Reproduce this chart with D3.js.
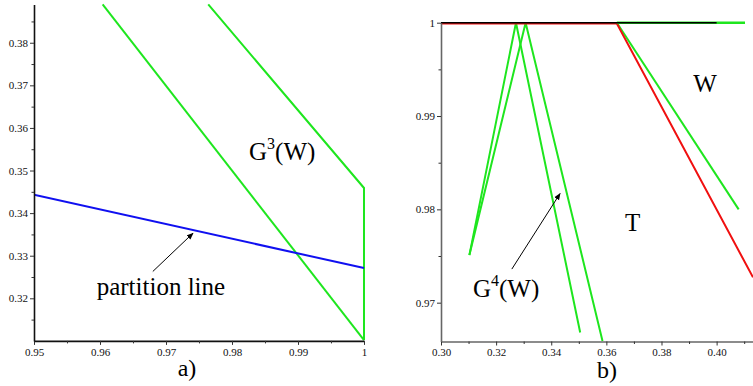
<!DOCTYPE html>
<html>
<head>
<meta charset="utf-8">
<script src="https://cdn.jsdelivr.net/npm/d3@7"></script>
<style>
  body { margin: 0; background: #fff; }
  svg text { font-family: "Liberation Serif", "DejaVu Serif", "Times New Roman", serif; }
</style>
</head>
<body>
<div id="chart"></div>
<script>
// size of the whole picture
var width = 753,
  height = 386;

var serif = "'Liberation Serif', 'DejaVu Serif', serif";

var green = "#1ee61e",
  blue = "#1010f0",
  red = "#f01010";

// ---- panel a) data ----
var aXTicks = [0.95, 0.96, 0.97, 0.98, 0.99, 1.0];
var aXMinor = [0.955, 0.965, 0.975, 0.985, 0.995];
var aYTicks = [0.32, 0.33, 0.34, 0.35, 0.36, 0.37, 0.38];
var aYMinor = [0.315, 0.325, 0.335, 0.345, 0.355, 0.365, 0.375, 0.385];

var partitionLine = [[0.95, 0.3443], [1.0, 0.3271]];
var g3Left = [[0.9604, 0.389], [1.0, 0.3102]];
var g3Right = [[0.9764, 0.389], [1.0, 0.3459], [1.0, 0.3102]];
var arrowA = [[0.968, 0.3263], [0.9741, 0.3353]];

// ---- panel b) data ----
var bXTicks = [0.30, 0.32, 0.34, 0.36, 0.38, 0.40];
var bXMinor = [0.31, 0.33, 0.35, 0.37, 0.39, 0.41];
var bYTicks = [0.97, 0.98, 0.99, 1.0];
var bYMinor = [0.975, 0.985, 0.995];

var topBlack = [[0.30, 1.0], [0.40, 1.0]];
var topGreen = [[0.3638, 1.0], [0.4103, 1.0]];
var redLine = [[0.30, 1.0], [0.3638, 1.0], [0.4132, 0.9728]];
var wEdge = [[0.3638, 1.0], [0.408, 0.98]];
var tent1 = [[0.3103, 0.9751], [0.3272, 1.0], [0.3505, 0.9668]];
var tent2 = [[0.3103, 0.9751], [0.3307, 1.0], [0.3586, 0.9659]];
var arrowB = [[0.3257, 0.9736], [0.3432, 0.9817]];

var svg = d3.select("#chart").append("svg")
  .attr("width", width)
  .attr("height", height)
  .attr("font-family", serif);

var defs = svg.append("defs");
defs.append("marker")
  .attr("id", "arrow")
  .attr("viewBox", "0 0 10 10")
  .attr("refX", 9)
  .attr("refY", 5)
  .attr("markerWidth", 7)
  .attr("markerHeight", 7)
  .attr("markerUnits", "userSpaceOnUse")
  .attr("orient", "auto")
  .append("path")
  .attr("d", "M0,1 L10,5 L0,9 Z")
  .attr("fill", "#000");

function fmt(d) {
  return d === 1 ? "1" : d3.format(".2f")(d);
}

// draws both axes of one panel, major + minor ticks
function drawAxes(x, y, xTicks, xMinor, yTicks, yMinor, axisColor) {
  var g = svg.append("g");
  var y0 = y.range()[0], x0 = x.range()[0];

  g.append("g").attr("transform", "translate(0," + y0 + ")")
    .call(d3.axisBottom(x).tickValues(xTicks).tickFormat(fmt).tickSize(4).tickSizeOuter(0).tickPadding(3));
  g.append("g").attr("transform", "translate(0," + y0 + ")")
    .call(d3.axisBottom(x).tickValues(xMinor).tickFormat("").tickSize(2.5).tickSizeOuter(0))
    .select(".domain").remove();

  g.append("g").attr("transform", "translate(" + x0 + ",0)")
    .call(d3.axisLeft(y).tickValues(yTicks).tickFormat(fmt).tickSize(4).tickSizeOuter(0).tickPadding(2));
  g.append("g").attr("transform", "translate(" + x0 + ",0)")
    .call(d3.axisLeft(y).tickValues(yMinor).tickFormat("").tickSize(2.5).tickSizeOuter(0))
    .select(".domain").remove();

  // axis groups carry their own sans-serif font, override it
  g.selectAll("g").attr("font-family", serif).attr("font-size", 11);
  g.selectAll(".domain").attr("stroke", axisColor).attr("stroke-width", 1.6);
  g.selectAll(".tick line").attr("stroke", "#333").attr("stroke-width", 1);
  g.selectAll(".tick text").attr("fill", "#111");
  return g;
}

function drawLine(x, y, data, color, w, clip) {
  var line = d3.line().x(d => x(d[0])).y(d => y(d[1]));
  return svg.append("path")
    .datum(data)
    .attr("d", line)
    .attr("fill", "none")
    .attr("stroke", color)
    .attr("stroke-width", w)
    .attr("stroke-linejoin", "miter")
    .attr("clip-path", clip ? "url(#" + clip + ")" : null);
}

function drawArrow(x, y, data) {
  svg.append("line")
    .attr("x1", x(data[0][0])).attr("y1", y(data[0][1]))
    .attr("x2", x(data[1][0])).attr("y2", y(data[1][1]))
    .attr("stroke", "#000")
    .attr("stroke-width", 1)
    .attr("marker-end", "url(#arrow)");
}

// G^n(W) style label
function gLabel(x, y, pos, power) {
  var t = svg.append("text")
    .attr("x", x(pos[0]))
    .attr("y", y(pos[1]))
    .attr("font-size", 25);
  t.append("tspan").text("G");
  t.append("tspan").text(power).attr("font-size", 16).attr("dy", -11);
  t.append("tspan").text("(W)").attr("dy", 11);
}

function plainLabel(x, y, pos, txt) {
  svg.append("text")
    .attr("x", x(pos[0]))
    .attr("y", y(pos[1]))
    .attr("font-size", 25)
    .text(txt);
}

// ================= panel a =================
var xA = d3.scaleLinear().domain([0.95, 1.0]).range([34, 364]);
var yA = d3.scaleLinear().domain([0.31, 0.389]).range([340.9, 4.4]);

defs.append("clipPath").attr("id", "clipA")
  .append("rect").attr("x", 34).attr("y", 3).attr("width", 332).attr("height", 340);

drawLine(xA, yA, g3Left, green, 2, "clipA");
drawLine(xA, yA, g3Right, green, 2, "clipA");
drawLine(xA, yA, partitionLine, blue, 2, "clipA");
drawAxes(xA, yA, aXTicks, aXMinor, aYTicks, aYMinor, "#111");
drawArrow(xA, yA, arrowA);

plainLabel(xA, yA, [0.9595, 0.3208], "partition line");
gLabel(xA, yA, [0.98258, 0.35247], "3");

svg.append("text")
  .attr("x", 187).attr("y", 376)
  .attr("text-anchor", "middle")
  .attr("font-size", 24)
  .text("a)");

// ================= panel b =================
var xB = d3.scaleLinear().domain([0.30, 0.4132]).range([441, 753]);
var yB = d3.scaleLinear().domain([0.96584, 1.0]).range([341.5, 22.7]);

defs.append("clipPath").attr("id", "clipB")
  .append("rect").attr("x", 441).attr("y", 18).attr("width", 312).attr("height", 324);

drawLine(xB, yB, tent1, green, 2, "clipB");
drawLine(xB, yB, tent2, green, 2, "clipB");
drawLine(xB, yB, wEdge, green, 2, "clipB");
drawLine(xB, yB, redLine, red, 2, "clipB").attr("transform", "translate(0,0.8)");
drawLine(xB, yB, topGreen, green, 2.4, "clipB");
drawLine(xB, yB, topBlack, "#000", 1.6, "clipB");
drawAxes(xB, yB, bXTicks, bXMinor, bYTicks, bYMinor, "#666");
drawArrow(xB, yB, arrowB);

gLabel(xB, yB, [0.3116, 0.97058], "4");
plainLabel(xB, yB, [0.3668, 0.97771], "T");
plainLabel(xB, yB, [0.3915, 0.9926], "W");

svg.append("text")
  .attr("x", 607).attr("y", 378)
  .attr("text-anchor", "middle")
  .attr("font-size", 24)
  .text("b)");
</script>
</body>
</html>
